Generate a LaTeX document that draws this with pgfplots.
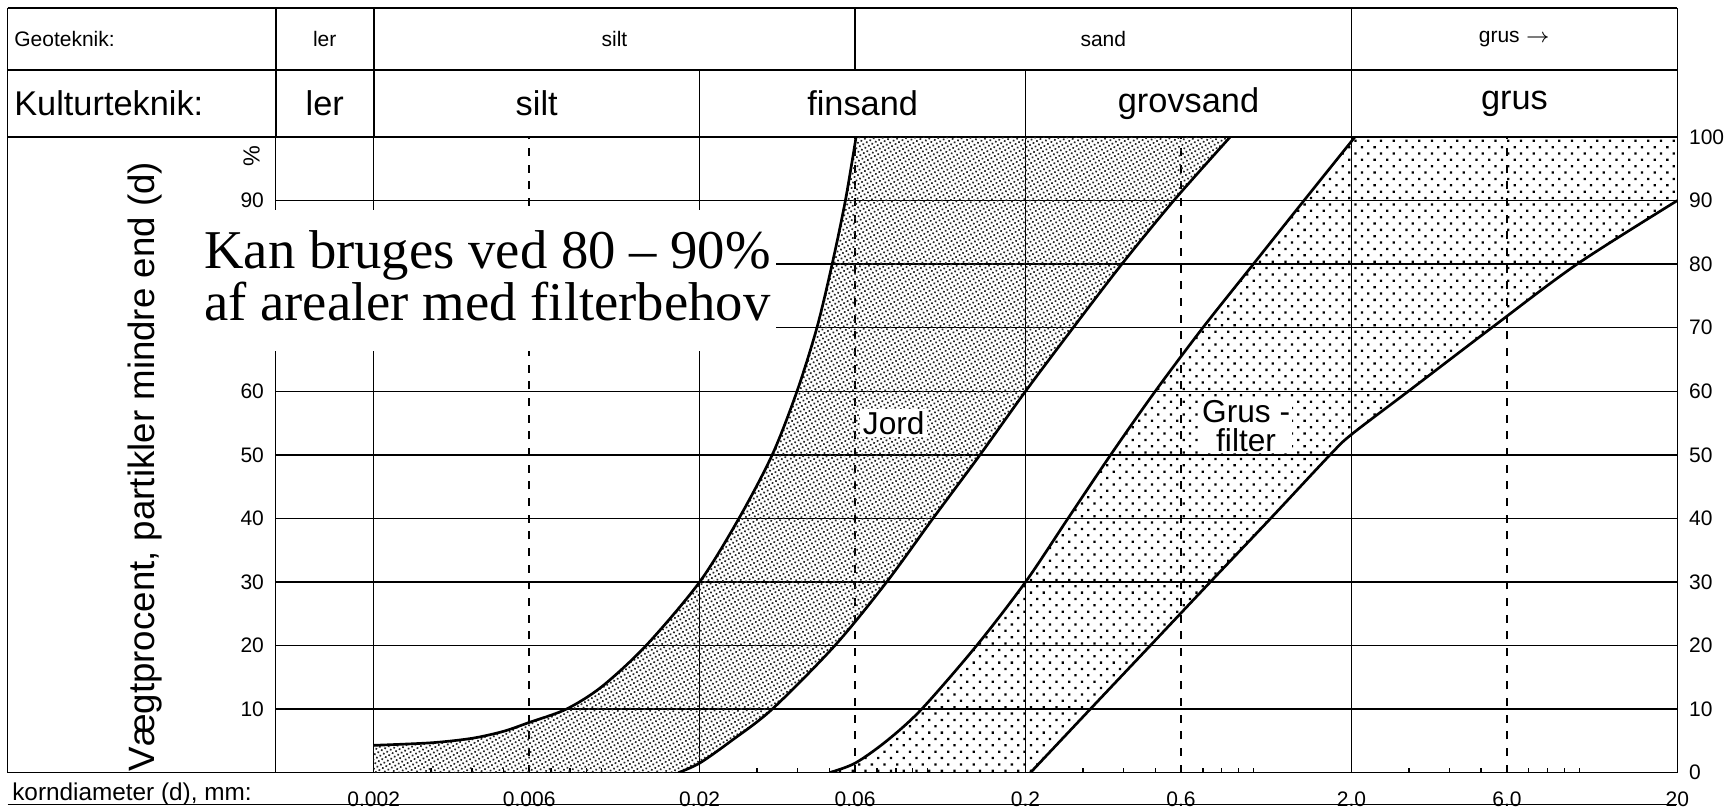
\documentclass[border=0pt]{standalone}
\usepackage{pgfplots}
\pgfplotsset{compat=1.18}
\usepackage{pgfplotstable}
\usepackage{fontspec}
\setmainfont{Liberation Sans}
\newfontfamily\tnr{Liberation Serif}
\usetikzlibrary{calc,patterns.meta}

\newcommand\fs[1]{\fontsize{#1}{#1}\selectfont}

% Jord, left boundary
\pgfplotstableread[row sep=\\]{
d p\\
0.002 4.3\\
0.003 4.7\\
0.004 5.4\\
0.005 6.5\\
0.006 7.9\\
0.0078 10\\
0.01 13.5\\
0.0137 20\\
0.02 30\\
0.0264 40\\
0.0334 50\\
0.0398 60\\
0.0458 70\\
0.051 80\\
0.056 90\\
0.0604 100\\
}\curveA
% Jord, right boundary
\pgfplotstableread[row sep=\\]{
d p\\
0.0172 0\\
0.02 1.5\\
0.025 5\\
0.0334 10\\
0.052 20\\
0.075 30\\
0.104 40\\
0.145 50\\
0.2 60\\
0.28 70\\
0.395 80\\
0.57 90\\
0.849 100\\
}\curveB
% Grusfilter, left boundary
\pgfplotstableread[row sep=\\]{
d p\\
0.05 0\\
0.06 1.5\\
0.075 5\\
0.096 10\\
0.1416 20\\
0.2 30\\
0.27 40\\
0.365 50\\
0.5 60\\
0.70 70\\
1.0 80\\
1.43 90\\
2.05 100\\
}\curveC
% Grusfilter, right boundary
\pgfplotstableread[row sep=\\]{
d p\\
0.207 0\\
0.316 10\\
0.483 20\\
0.738 30\\
1.13 40\\
1.72 50\\
2.0 53.2\\
2.99 60\\
5.39 70\\
9.85 80\\
20 90\\
}\curveD

\begin{document}
\begin{tikzpicture}
\useasboundingbox (-82.7pt,-10.9pt) rectangle (438.1pt,231.8pt);
\begin{axis}[
  at={(0pt,0pt)}, anchor=south west,
  scale only axis, width=420.5pt, height=190.7pt,
  xmode=log, xmin=0.001, xmax=20, ymin=0, ymax=100,
  no markers,
  axis line style={line width=0.5pt},
  xtick={0.002,0.02,0.2,2,20},
  xticklabels={0.002,0.02,0.2,2.0,20},
  extra x ticks={0.006,0.06,0.6,6},
  extra x tick labels={0.006,0.06,0.6,6.0},
  extra x tick style={major grid style={black, line width=0.55pt, dash pattern=on 2.4pt off 2.6pt}},
  minor xtick={0.003,0.004,0.005,0.006,0.007,0.008,0.009,0.01,0.03,0.04,0.05,0.06,0.07,0.08,0.09,0.1,0.3,0.4,0.5,0.6,0.7,0.8,0.9,1,3,4,5,6,7,8,9,10},
  xmajorgrids=true, ymajorgrids=true,
  major grid style={black, line width=0.45pt},
  ytick={0,10,20,30,40,50,60,70,80,90,100},
  yticklabels={0,10,20,30,40,50,60,70,80,90,100},
  yticklabel pos=right,
  xtick pos=bottom, ytick pos=right,
  major tick length=0pt, minor tick length=1.4pt,
  minor tick style={black, line width=0.4pt},
  tick label style={font=\fs{6.3}},
  xticklabel style={yshift=-2.3pt},
]
% Jord area
\addplot[draw=none, pattern={Dots[radius=0.36pt,distance=1.2pt,angle=30]}, pattern color=black!85]
 coordinates {(0.002,4.3)(0.003,4.7)(0.004,5.4)(0.005,6.5)(0.006,7.9)(0.0078,10)(0.01,13.5)(0.0137,20)(0.02,30)(0.0264,40)(0.0334,50)(0.0398,60)(0.0458,70)(0.051,80)(0.056,90)(0.0604,100)
 (0.849,100)(0.57,90)(0.395,80)(0.28,70)(0.2,60)(0.145,50)(0.104,40)(0.075,30)(0.052,20)(0.0334,10)(0.025,5)(0.02,1.5)(0.0172,0)(0.002,0)};
% Grusfilter area
\addplot[draw=none, pattern={Dots[radius=0.48pt,distance=2.7pt,angle=45]}, pattern color=black]
 coordinates {(0.05,0)(0.06,1.5)(0.075,5)(0.096,10)(0.1416,20)(0.2,30)(0.27,40)(0.365,50)(0.5,60)(0.70,70)(1.0,80)(1.43,90)(2.05,100)
 (20,100)(20,90)(9.85,80)(5.39,70)(2.99,60)(2.0,53.2)(1.72,50)(1.13,40)(0.738,30)(0.483,20)(0.316,10)(0.207,0)};
\addplot[black, line width=0.8pt, smooth] table[x=d,y=p] {\curveA};
\addplot[black, line width=0.8pt, smooth] table[x=d,y=p] {\curveB};
\addplot[black, line width=0.8pt, smooth] table[x=d,y=p] {\curveC};
\addplot[black, line width=0.8pt, smooth] table[x=d,y=p] {\curveD};
\coordinate (xA) at (axis cs:0.001,0);
\coordinate (xB) at (axis cs:0.002,0);
\coordinate (xC) at (axis cs:0.02,0);
\coordinate (xD) at (axis cs:0.06,0);
\coordinate (xE) at (axis cs:0.2,0);
\coordinate (xF) at (axis cs:2,0);
\coordinate (xG) at (axis cs:20,0);
\coordinate (top) at (axis cs:0.001,100);
\coordinate (jord) at (axis cs:0.0788,55);
\coordinate (grus) at (axis cs:0.95,54.5);
\coordinate (pct) at (axis cs:0.001,97);
\end{axis}
\begin{axis}[
  at={(0pt,0pt)}, anchor=south west,
  scale only axis, width=420.5pt, height=190.7pt,
  xmode=log, xmin=0.001, xmax=20, ymin=0, ymax=100,
  hide x axis, no markers,
  axis line style={line width=0.5pt},
  ytick={10,20,30,40,50,60,90},
  yticklabels={10,20,30,40,50,60,90},
  ytick pos=left, yticklabel pos=left,
  major tick length=0pt,
  tick label style={font=\fs{6.3}},
]
\addplot[draw=none] coordinates {(0.01,50)};
\end{axis}

% frame and header table
\path (top) ++(0,38.7pt) coordinate (hT);
\path (top) ++(0,20.1pt) coordinate (hM);
\path (xA) ++(-80.4pt,0) coordinate (fL);
\path (fL) ++(0,-9.6pt) coordinate (fB);
\path ($(hT)!0.5!(hM)$) coordinate (r1);
\path ($(hM)!0.5!(top)$) coordinate (r2);
\begin{scope}[line width=0.5pt]
\draw (fL |- hT) -- (xG |- hT);
\draw (fL |- hM) -- (xG |- hM);
\draw (fL |- top) -- (xA |- top);
\draw (fL) -- (xA);
\draw (fL |- hT) -- (fL);
\draw (fB) -- (fB -| xG);
\draw (xA |- hT) -- (xA |- top);
\draw (xG |- hT) -- (xG |- top);
\draw (xB |- hT) -- (xB |- top);
\draw (xF |- hT) -- (xF |- top);
\draw (xD |- hT) -- (xD |- hM);
\draw (xC |- hM) -- (xC |- top);
\draw (xE |- hM) -- (xE |- top);
\end{scope}
\begin{scope}[every node/.style={font=\fs{6.3}, inner sep=0pt}]
\node[anchor=west] at ($(fL |- r1)+(1.8pt,0)$) {Geoteknik:};
\node at ($(xA |- r1)!0.5!(xB |- r1)$) {ler};
\node at ($(xB |- r1)!0.5!(xD |- r1)$) {silt};
\node at ($(xD |- r1)!0.5!(xF |- r1)$) {sand};
\node at ($(xF |- r1)!0.5!(xG |- r1)$) {grus $\rightarrow$};
\end{scope}
\begin{scope}[every node/.style={font=\fs{10.3}, inner sep=0pt}]
\node[anchor=west] at ($(fL |- r2)+(1.8pt,0)$) {Kulturteknik:};
\node at ($(xA |- r2)!0.5!(xB |- r2)$) {ler};
\node at ($(xB |- r2)!0.5!(xC |- r2)$) {silt};
\node at ($(xC |- r2)!0.5!(xE |- r2)$) {finsand};
\node at ($(xE |- r2)!0.5!(xF |- r2)$) {grovsand};
\node at ($(xF |- r2)!0.5!(xG |- r2)$) {grus};
\end{scope}
% axis descriptions
\node[rotate=90, font=\fs{11}, inner sep=0pt] at ($(xA)+(-39.3pt,91.8pt)$) {Vægtprocent, partikler mindre end (d)};
\node[anchor=west, font=\fs{7.3}, inner sep=0pt] at ($(fL)+(1.2pt,-6.6pt)$) {korndiameter (d), mm:};
\node[rotate=90, font=\fs{7}, inner sep=0pt] at ($(pct)+(-7.2pt,0)$) {\%};
% area labels
\node[fill=white, inner sep=0.8pt, font=\fs{9.5}] at (jord) {Jord};
\node[fill=white, inner sep=0.5pt, font=\fontsize{9.5}{8.6}\selectfont, align=center] at (grus) {Grus -\\filter};
% overlay note
\fill[white] ($(xA)+(-22.8pt,126.6pt)$) rectangle ($(xA)+(150pt,168.8pt)$);
\node[anchor=base west, inner sep=0pt, font=\tnr\fs{16.4}] at ($(xA)+(-21.6pt,151.2pt)$) {Kan bruges ved 80 – 90\%};
\node[anchor=base west, inner sep=0pt, font=\tnr\fs{16.4}] at ($(xA)+(-21.6pt,135.6pt)$) {af arealer med filterbehov};
\end{tikzpicture}
\end{document}
